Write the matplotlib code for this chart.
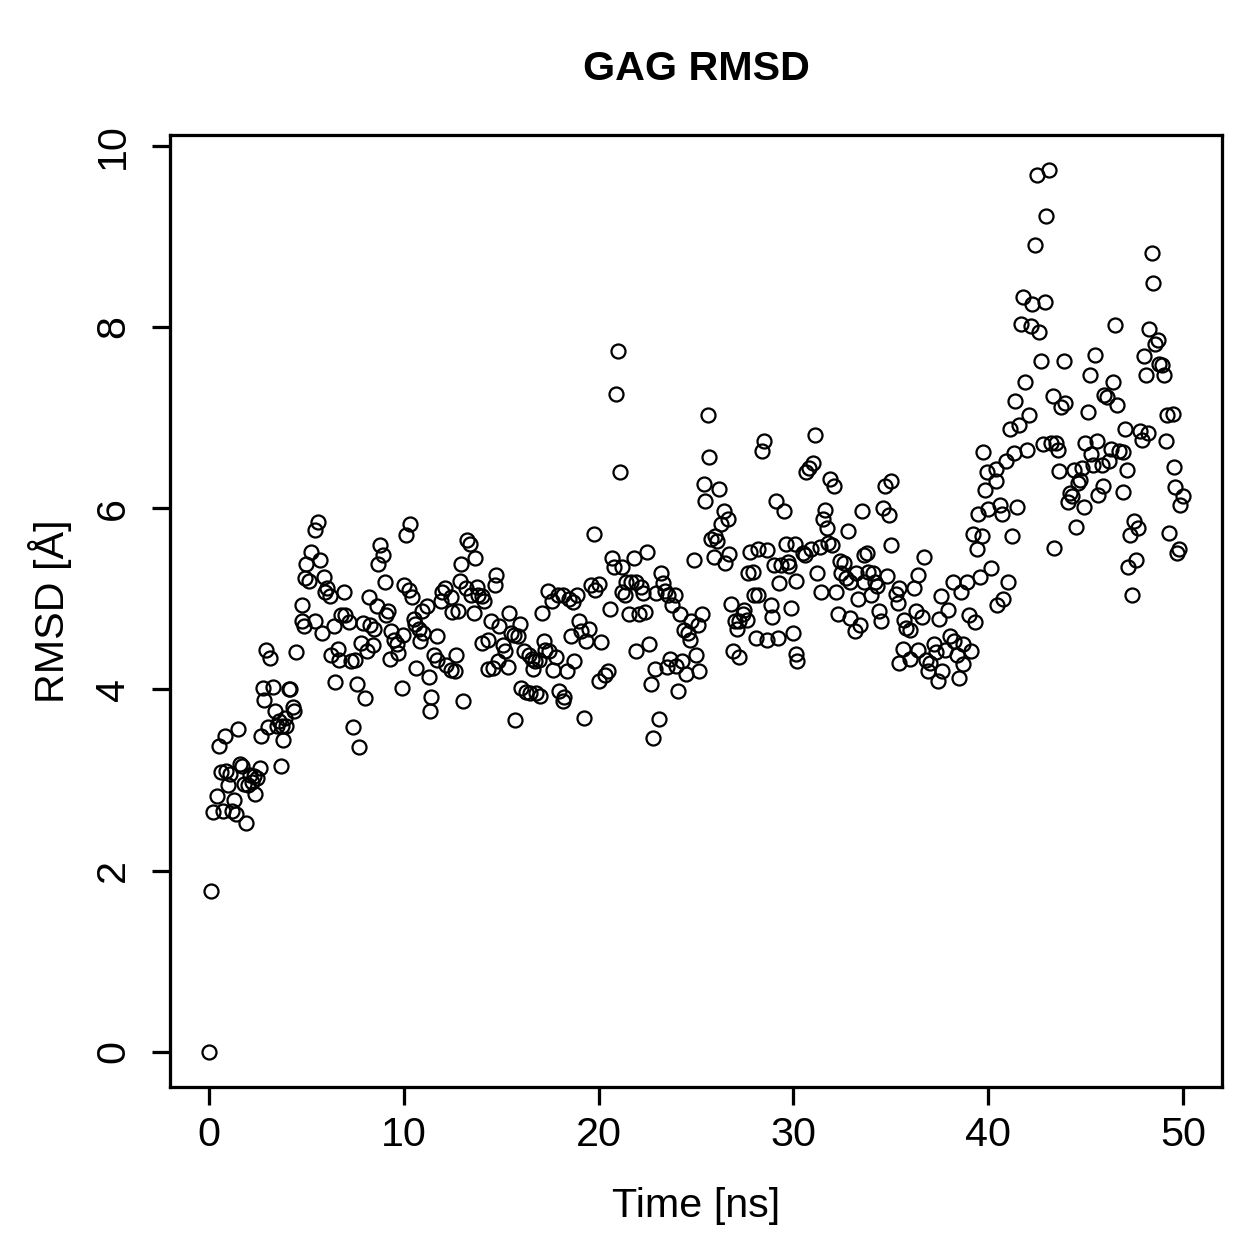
import matplotlib
matplotlib.use("Agg")
import matplotlib.pyplot as plt

# RMSD of GAG over the trajectory
# chunk 0-5 ns
t_a = [0.0, 0.1, 0.2, 0.4, 0.5, 0.6, 0.7, 0.8, 0.9, 1.0, 1.1, 1.2, 1.3, 1.4, 1.5, 1.6, 1.7, 1.8, 1.9,
       2.0, 2.1, 2.2, 2.3, 2.35, 2.45, 2.6, 2.65, 2.75, 2.85, 2.95, 3.05, 3.15, 3.3, 3.4, 3.5, 3.6,
       3.7, 3.75, 3.8, 3.9, 3.95, 4.1, 4.15, 4.3, 4.35, 4.45]
r_a = [0.0, 1.77, 2.65, 2.82, 3.38, 3.09, 2.66, 3.49, 3.10, 2.94, 3.07, 2.66, 2.78, 2.62, 3.56, 3.18, 3.15, 2.96, 2.53,
       2.94, 3.05, 2.98, 3.04, 2.85, 3.02, 3.13, 3.49, 4.02, 3.88, 4.43, 3.58, 4.35, 4.03, 3.76, 3.60, 3.65,
       3.15, 3.60, 3.44, 3.68, 3.59, 4.0, 4.0, 3.80, 3.76, 4.41]

# chunk 5-10 ns
t_b = [4.76, 4.8, 4.87, 4.92, 4.97, 5.12, 5.23, 5.43, 5.58, 5.69, 5.45, 5.79, 5.89, 5.94, 6.05, 6.2,
       6.25, 6.4, 6.45, 6.6, 6.66, 6.76, 6.92, 6.97, 7.17, 7.27, 7.38, 7.48, 7.58, 7.68, 7.79, 7.89,
       7.99, 8.09, 8.2, 8.25, 8.4, 8.45, 8.6, 8.7, 8.76, 8.91, 9.02, 9.07, 9.17, 9.27, 9.32, 9.48,
       9.63, 9.68]
r_b = [4.93, 4.75, 4.70, 5.23, 5.38, 5.20, 5.52, 5.76, 5.85, 5.43, 4.76, 4.62, 5.24, 5.08, 5.12, 5.03,
       4.38, 4.70, 4.08, 4.45, 4.32, 4.82, 5.07, 4.82, 4.74, 4.31, 3.58, 4.32, 4.06, 3.36, 4.51, 4.73,
       3.91, 4.42, 5.02, 4.71, 4.49, 4.67, 4.92, 5.38, 5.59, 5.48, 5.19, 4.82, 4.86, 4.34, 4.64, 4.54,
       4.50, 4.40]

# chunk 10-15 ns
t_c = [9.89, 9.94, 9.99, 10.09, 10.25, 10.3, 10.4, 10.5, 10.6, 10.62, 10.8, 10.82, 10.96, 11.0, 11.17,
       11.27, 11.37, 11.42, 11.53, 11.68, 11.73, 11.89, 11.94, 12.14, 12.18, 12.4, 12.42, 12.5, 12.65,
       12.7, 12.8, 12.9, 12.96, 13.06, 13.17, 13.27, 13.42, 13.45, 13.58, 13.68, 13.78, 13.83, 13.99,
       14.0, 14.14, 14.3, 14.34, 14.5, 14.6, 14.7, 14.75, 14.86]
r_c = [4.02, 4.60, 5.15, 5.70, 5.10, 5.83, 5.02, 4.78, 4.72, 4.24, 4.67, 4.53, 4.86, 4.62, 4.92,
       4.14, 3.76, 3.92, 4.38, 4.59, 4.32, 4.97, 5.08, 5.12, 4.27, 5.02, 4.21, 4.85, 4.20,
       4.38, 4.87, 5.20, 5.38, 3.87, 5.12, 5.65, 5.60, 5.04, 4.84, 5.45, 5.13, 5.04, 5.03,
       4.51, 4.97, 4.54, 4.22, 4.76, 4.24, 5.15, 5.26, 4.31]

# chunk 15-20 ns
t_d = [14.9, 15.1, 15.2, 15.37, 15.42, 15.52, 15.68, 15.7, 15.88, 15.98, 16.03, 16.19, 16.29, 16.44,
       16.47, 16.6, 16.65, 16.75, 16.8, 16.96, 16.99, 17.11, 17.21, 17.24, 17.42, 17.47, 17.62, 17.67,
       17.83, 17.93, 17.98, 18.19, 18.17, 18.24, 18.39, 18.5, 18.6, 18.7, 18.75, 18.9, 19.0, 19.11,
       19.26, 19.36, 19.52, 19.62, 19.77, 19.83, 20.03, 20.1]
r_d = [4.70, 4.49, 4.42, 4.25, 4.84, 4.62, 4.60, 3.66, 4.59, 4.72, 4.01, 4.42, 3.97, 4.38,
       3.96, 4.34, 4.22, 4.31, 3.96, 4.32, 3.93, 4.84, 4.53, 4.43, 5.09, 4.42, 4.98, 4.21,
       4.36, 5.04, 3.98, 5.04, 3.87, 3.92, 4.20, 5.0, 4.59, 4.96, 4.31, 5.04, 4.75, 4.64,
       3.68, 4.53, 4.67, 5.15, 5.72, 5.10, 5.16, 4.52]

# chunk 20-25 ns
t_e = [20.0, 20.35, 20.5, 20.6, 20.7, 20.8, 20.9, 21.0, 21.1, 21.2, 21.22, 21.36, 21.4, 21.57, 21.67,
       21.8, 21.9, 21.93, 22.08, 22.2, 22.3, 22.4, 22.5, 22.6, 22.7, 22.8, 22.9, 22.95, 23.1, 23.2,
       23.3, 23.4, 23.5, 23.57, 23.67, 23.77, 23.9, 23.98, 24.08, 24.18, 24.28, 24.4, 24.5, 24.6,
       24.7, 24.72, 24.9, 25.0, 25.15]
r_e = [4.09, 4.16, 4.20, 4.89, 5.45, 5.35, 7.26, 7.73, 6.40, 5.35, 5.08, 5.04, 5.18, 4.83, 5.19,
       5.45, 5.19, 4.42, 4.83, 5.13, 5.06, 4.85, 5.52, 4.50, 4.06, 3.46, 4.23, 5.06, 3.67, 5.29,
       5.17, 5.09, 4.25, 5.04, 4.34, 4.93, 5.04, 4.26, 3.98, 4.83, 4.31, 4.65, 4.17, 4.62,
       4.55, 4.75, 5.43, 4.38, 4.20]

# chunk 25-30 ns
t_f = [25.1, 25.3, 25.4, 25.46, 25.6, 25.67, 25.77, 25.92, 25.97, 26.08, 26.18, 26.28, 26.43, 26.5,
       26.64, 26.7, 26.8, 26.9, 27.0, 27.1, 27.2, 27.22, 27.4, 27.46, 27.6, 27.66, 27.77, 27.92, 27.97,
       28.07, 28.18, 28.2, 28.4, 28.5, 28.64, 28.66, 28.84, 28.9, 29.0, 29.1, 29.2, 29.25, 29.35, 29.5,
       29.6, 29.7, 29.76, 29.87, 30.0, 30.1, 30.12, 30.15, 30.2]
r_f = [4.71, 4.83, 6.27, 6.08, 7.03, 6.56, 5.66, 5.46, 5.69, 5.64, 6.21, 5.83, 5.97, 5.39,
       5.88, 5.49, 4.94, 4.42, 4.75, 4.67, 4.76, 4.36, 4.83, 4.88, 4.77, 5.29, 5.52, 5.30, 5.04,
       4.57, 5.04, 5.55, 6.63, 6.74, 5.54, 4.55, 4.93, 4.80, 5.37, 6.08, 4.57, 5.17, 5.37, 5.97,
       5.60, 5.41, 5.36, 4.90, 4.62, 5.61, 4.39, 5.20, 4.31]

# chunk 30-35 ns
t_g = [30.5, 30.6, 30.65, 30.8, 30.9, 31.0, 31.1, 31.2, 31.35, 31.4, 31.5, 31.6, 31.7, 31.8, 31.9,
       32.0, 32.1, 32.2, 32.3, 32.4, 32.45, 32.6, 32.7, 32.8, 32.9, 32.93, 33.15, 33.2, 33.3, 33.4,
       33.5, 33.6, 33.63, 33.8, 33.83, 33.96, 34.1, 34.2, 34.3, 34.4, 34.5, 34.6, 34.7, 34.8, 34.9,
       35.0, 35.02]
r_g = [5.50, 5.48, 6.40, 6.44, 5.55, 6.50, 6.81, 5.29, 5.57, 5.08, 5.88, 5.98, 5.78, 5.62, 6.32,
       5.59, 6.25, 5.08, 4.83, 5.42, 5.29, 5.40, 5.23, 5.75, 5.19, 4.79, 4.64, 5.29, 5.00, 4.71,
       5.97, 5.48, 5.19, 5.50, 5.30, 5.04, 5.29, 5.19, 5.14, 4.86, 4.75, 6.00, 6.24, 5.25, 5.92,
       6.30, 5.59]

# chunk 35-40 ns
t_h = [35.25, 35.35, 35.4, 35.42, 35.6, 35.66, 35.8, 35.97, 36.0, 36.17, 36.27, 36.4, 36.42, 36.6,
       36.7, 36.8, 36.9, 37.0, 37.2, 37.3, 37.4, 37.45, 37.6, 37.65, 37.8, 37.96, 38.06, 38.2, 38.22,
       38.4, 38.5, 38.6, 38.7, 38.72, 38.9, 38.99, 39.1, 39.2, 39.3, 39.4, 39.5, 39.6, 39.7, 39.75,
       39.86, 39.96, 40.0]
r_h = [5.05, 4.95, 5.12, 4.29, 4.44, 4.77, 4.68, 4.66, 4.33, 5.12, 4.86, 5.26, 4.43, 4.80,
       5.46, 4.32, 4.20, 4.29, 4.50, 4.41, 4.09, 4.78, 5.03, 4.20, 4.43, 4.88, 4.59, 5.19, 4.53,
       4.38, 4.12, 5.07, 4.50, 4.28, 5.18, 4.82, 4.42, 5.72, 4.74, 5.55, 5.94, 5.24, 5.69, 6.62,
       6.20, 6.40, 5.99]

# chunk 40-45 ns
t_i = [40.16, 40.4, 40.42, 40.47, 40.6, 40.7, 40.78, 40.9, 41.03, 41.1, 41.2, 41.3, 41.4, 41.5, 41.6,
       41.7, 41.8, 41.9, 42.0, 42.1, 42.2, 42.26, 42.4, 42.5, 42.6, 42.7, 42.8, 42.9, 42.98, 43.1,
       43.2, 43.3, 43.4, 43.5, 43.6, 43.65, 43.75, 43.9, 43.95, 44.1, 44.2, 44.3, 44.4, 44.5, 44.6,
       44.7, 44.8, 44.9, 44.98, 45.1, 45.2]
r_i = [5.34, 6.43, 6.30, 4.93, 6.03, 5.94, 5.00, 6.52, 5.19, 6.87, 5.69, 6.61, 7.18, 6.01, 6.92,
       8.03, 8.33, 7.39, 6.64, 7.03, 8.01, 8.25, 8.91, 9.68, 7.94, 7.62, 6.71, 8.28, 9.23, 9.73,
       6.72, 7.24, 5.56, 6.72, 6.64, 6.41, 7.12, 7.62, 7.16, 6.07, 6.17, 6.14, 6.42, 5.79, 6.28,
       6.31, 6.44, 6.01, 6.72, 7.06, 7.47]

# chunk 45-50 ns
t_j = [45.3, 45.4, 45.5, 45.6, 45.62, 45.85, 45.9, 45.95, 46.1, 46.2, 46.3, 46.4, 46.5, 46.6, 46.7,
       46.9, 46.92, 47.0, 47.1, 47.2, 47.3, 47.4, 47.5, 47.6, 47.7, 47.8, 47.9, 48.0, 48.1, 48.2,
       48.26, 48.4, 48.46, 48.57, 48.7, 48.75, 48.9, 49.0, 49.1, 49.2, 49.3, 49.5, 49.52, 49.6, 49.7,
       49.8, 49.85, 50.0]
r_j = [6.60, 6.48, 7.69, 6.74, 6.15, 6.48, 6.25, 7.25, 7.23, 6.52, 6.65, 7.39, 8.02, 7.14, 6.63,
       6.62, 6.18, 6.87, 6.42, 5.35, 5.70, 5.04, 5.86, 5.43, 5.78, 6.85, 6.75, 7.68, 7.47, 6.83,
       7.98, 8.82, 8.49, 7.81, 7.86, 7.59, 7.58, 7.47, 6.74, 7.03, 5.73, 7.04, 6.45, 6.23, 5.51,
       5.55, 6.03, 6.14]

time = t_a + t_b + t_c + t_d + t_e + t_f + t_g + t_h + t_i + t_j
rmsd = r_a + r_b + r_c + r_d + r_e + r_f + r_g + r_h + r_i + r_j

x_ticks = [0, 10, 20, 30, 40, 50]
y_ticks = [0, 2, 4, 6, 8, 10]

plt.rcParams['font.family'] = ['Liberation Sans', 'DejaVu Sans']

fig = plt.figure(figsize=(1259 / 180, 1259 / 180), dpi=180)
ax = fig.add_axes([170 / 1259, 1 - 1087 / 1259, (1222 - 170) / 1259, (1087 - 135) / 1259])

ax.plot(time, rmsd, 'o', markersize=5.6, markerfacecolor='none',
        markeredgecolor='black', markeredgewidth=0.9)

ax.set_xlim(-2, 52)
ax.set_ylim(-0.39, 10.12)
ax.set_xticks(x_ticks)
ax.set_yticks(y_ticks)
ax.set_yticklabels([str(v) for v in y_ticks], rotation=90, va='center')
ax.tick_params(direction='out', length=7.2, width=1.3, labelsize=16.5)
ax.tick_params(axis='x', pad=4.5)
ax.tick_params(axis='y', pad=8)

for s in ax.spines.values():
    s.set_linewidth(1.3)

ax.set_xlabel("Time [ns]", fontsize=16.5, labelpad=13)
ax.set_ylabel("RMSD [Å]", fontsize=16.5, labelpad=9)
ax.set_title("GAG RMSD", fontsize=16.5, fontweight='bold', pad=22)

fig.savefig("out.png", dpi=180)
